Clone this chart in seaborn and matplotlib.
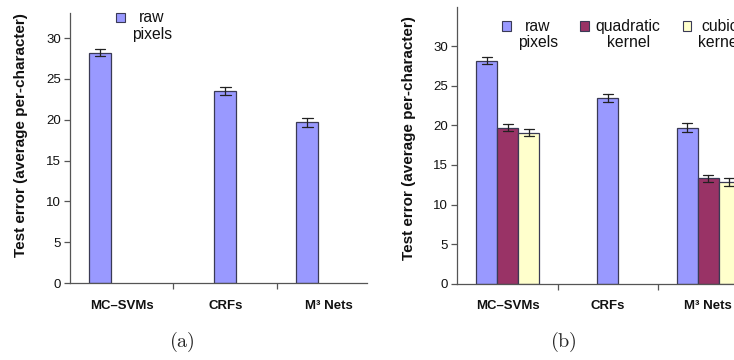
import numpy as np
import pandas as pd
import matplotlib
matplotlib.use("Agg")
import matplotlib.pyplot as plt
import seaborn as sns
from matplotlib.patches import Patch, Rectangle
from matplotlib.legend_handler import HandlerPatch

# ---------------- data ----------------
methods = ["MC–SVMs", "CRFs", "M³ Nets"]
kernels = ["raw\npixels", "quadratic\nkernel", "cubic\nkernel"]
raw_err = [28.2, 23.5, 19.7]
raw_ci = [0.45, 0.5, 0.55]
quad_err = [19.7, np.nan, 13.3]
quad_ci = [0.45, np.nan, 0.45]
cubic_err = [19.1, np.nan, 12.8]
cubic_ci = [0.5, np.nan, 0.5]
yticks = [0, 5, 10, 15, 20, 25, 30]
captions = ["(a)", "(b)"]

colors = ["#9999FF", "#993366", "#FFFFCC"]
palette = dict(zip(kernels, colors))
EDGE = "#3a3a55"

# long table: two rows per bar (value -/+ error) so seaborn draws the interval
rows = []
series = [(raw_err, raw_ci), (quad_err, quad_ci), (cubic_err, cubic_ci)]
for k, (vals, cis) in zip(kernels, series):
    for m, v, e in zip(methods, vals, cis):
        if np.isnan(v):
            continue
        rows.append(dict(method=m, kernel=k, val=v - e))
        rows.append(dict(method=m, kernel=k, val=v + e))
df = pd.DataFrame(rows)
n_per_method = df.groupby("method")["kernel"].nunique()
df["single"] = df["method"].map(n_per_method) == 1

sns.set_theme(style="white")
plt.rcParams["font.family"] = ["Liberation Sans", "DejaVu Sans"]
plt.rcParams["mathtext.fontset"] = "cm"

fig = plt.figure(figsize=(7.34, 3.6), dpi=100)
W, H = 734.0, 360.0
axa = fig.add_axes([70 / W, (H - 283) / H, 297 / W, (283 - 12.7) / H])
axb = fig.add_axes([457.3 / W, (H - 283.7) / H, 276.7 / W, (283.7 - 6.7) / H])


class FirstLineHandler(HandlerPatch):
    def __init__(self, shift, **kw):
        super().__init__(**kw)
        self.shift = shift

    def create_artists(self, legend, orig_handle, xdescent, ydescent,
                       width, height, fontsize, trans):
        p = Rectangle((-xdescent, -ydescent + self.shift), width, height,
                      facecolor=orig_handle.get_facecolor(),
                      edgecolor=orig_handle.get_edgecolor(),
                      linewidth=orig_handle.get_linewidth())
        p.set_transform(trans)
        return [p]


def draw(ax, data, legend_kernels, ylim, xlim, leg_anchor, ylab_xy):
    grouped = data[~data["single"]]
    single = data[data["single"]]
    common = dict(x="method", y="val", hue="kernel", order=methods,
                  hue_order=kernels, palette=palette, saturation=1,
                  errorbar=("pi", 100),
                  err_kws=dict(color="#222222", linewidth=0.9),
                  edgecolor=EDGE, linewidth=0.9, legend=False, ax=ax)
    sns.barplot(data=grouped, dodge=True, width=0.63, capsize=0.3, **common)
    sns.barplot(data=single, dodge=False, width=0.21, capsize=0.1, **common)

    ax.set_yticks(yticks)
    ax.set_yticklabels([str(t) for t in yticks], fontsize=9.5, color="#111111")
    ax.set_xticks(range(len(methods)))
    ax.set_xticklabels(methods, fontsize=9.5, fontweight="bold", color="#111111")
    ax.set_xticks([0.5, 1.5], minor=True)
    ax.set_ylim(*ylim)
    ax.set_xlim(*xlim)
    ax.tick_params(axis="x", which="major", length=0, pad=12)
    ax.tick_params(axis="x", which="minor", bottom=True, length=4, width=0.9,
                   direction="out", color="#555555")
    ax.tick_params(axis="y", left=True, length=4, width=0.9, direction="out",
                   color="#555555", pad=2.5)
    for s in ["top", "right"]:
        ax.spines[s].set_visible(False)
    for s in ["left", "bottom"]:
        ax.spines[s].set_color("#555555")
        ax.spines[s].set_linewidth(0.9)
    ax.set_xlabel("")
    ax.set_ylabel("Test error (average per-character)", fontsize=11,
                  fontweight="bold", color="#111111")
    ax.yaxis.set_label_coords(*ylab_xy)

    handles = [Patch(facecolor=palette[k], edgecolor=EDGE, linewidth=0.8)
               for k in legend_kernels]
    leg = ax.legend(handles, legend_kernels, loc="upper left",
                    bbox_to_anchor=leg_anchor, ncol=len(legend_kernels),
                    frameon=False, fontsize=11.3, handlelength=0.56,
                    handleheight=0.56, handletextpad=0.45, columnspacing=1.4,
                    borderpad=0, borderaxespad=0,
                    handler_map={Patch: FirstLineHandler(6.5)})
    for t in leg.get_texts():
        t.set_multialignment("center")
        t.set_linespacing(1.15)
        t.set_color("#111111")


data_a = df[df["kernel"] == kernels[0]]
draw(axa, data_a, kernels[:1], (0, 33.1), (-0.497, 2.365), (0.155, 1.01),
     (-0.14, 0.549))
draw(axb, df, kernels, (0, 35.0), (-0.502, 2.258), (0.1615, 0.957),
     (-0.15, 0.526))

fig.text(182 / W, 1 - 342 / H, r"$\mathrm{" + captions[0] + "}$",
         ha="center", va="center", fontsize=14.5)
fig.text(563.7 / W, 1 - 342 / H, r"$\mathrm{" + captions[1] + "}$",
         ha="center", va="center", fontsize=14.5)

fig.savefig("out.png", dpi=100)
